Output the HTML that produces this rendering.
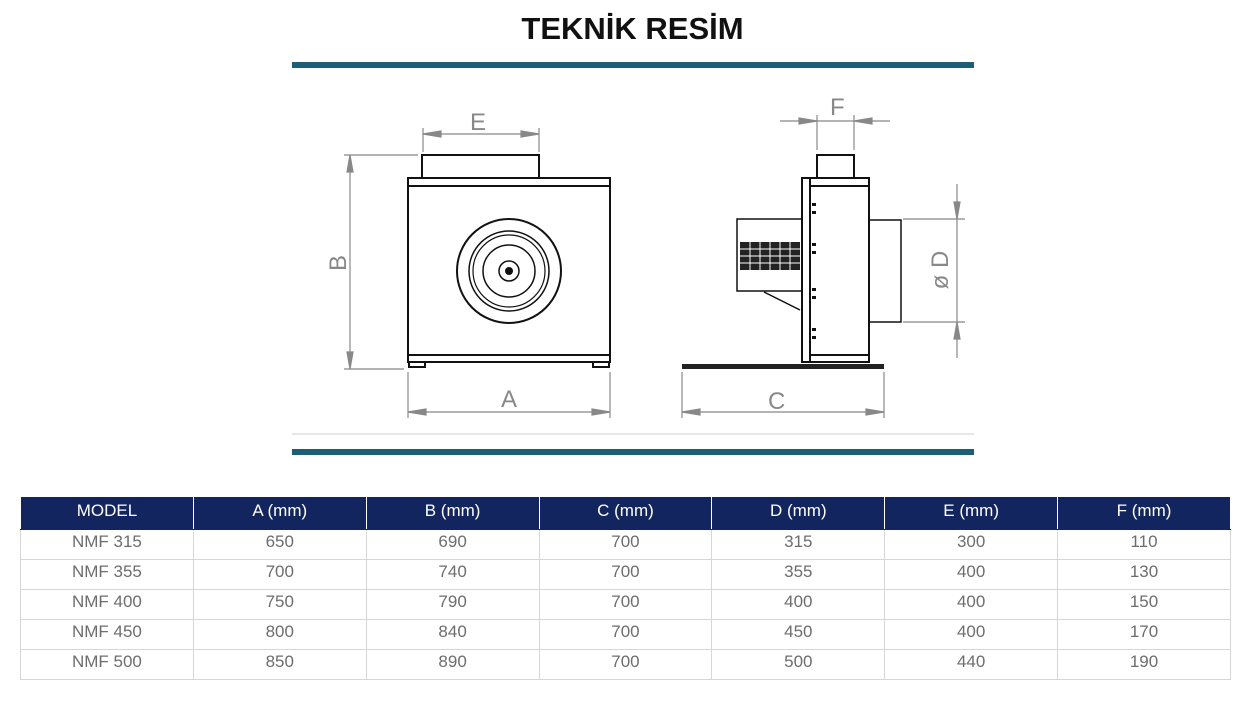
<!DOCTYPE html>
<html><head><meta charset="utf-8"><style>
body{margin:0;width:1247px;height:715px;background:#fff;position:relative;overflow:hidden;font-family:"Liberation Sans",sans-serif}
.t{position:absolute;top:11px;left:0;width:1265px;text-align:center;font-weight:bold;font-size:31px;color:#111}
table{position:absolute;left:20px;top:496px;border-collapse:collapse;width:1211px;table-layout:fixed}
td,th{border:1px solid #d6d6d6;text-align:center;font-size:17px;height:29px;padding:0 0 6px 0;line-height:23px;color:#6d6d6d;font-weight:normal;box-sizing:border-box}
td{height:30px}
th{background:#13255e;color:#fff;height:33px;padding-bottom:5px;border-color:#fff #fff #13255e}
</style></head><body>
<div class="t">TEKNİK RESİM</div>
<svg width="1247" height="480" style="position:absolute;left:0;top:0" font-family="Liberation Sans, sans-serif">
<rect x="292" y="62" width="682" height="6" fill="#1a5f75"/>
<rect x="292" y="449" width="682" height="6" fill="#1a5f75"/>
<line x1="292" y1="434" x2="974" y2="434" stroke="#ccc"/>
<g stroke="#888" stroke-width="1.2" fill="#888">
<line x1="423" y1="128" x2="423" y2="152"/><line x1="539" y1="128" x2="539" y2="152"/>
<line x1="423" y1="134" x2="539" y2="134"/>
<polygon points="423,134 441,131 441,137"/><polygon points="539,134 521,131 521,137"/>
<line x1="344" y1="155" x2="418" y2="155"/><line x1="344" y1="369" x2="404" y2="369"/>
<line x1="350" y1="155" x2="350" y2="369"/>
<polygon points="350,155 347,172 353,172"/><polygon points="350,369 347,352 353,352"/>
<line x1="408" y1="372" x2="408" y2="418"/><line x1="610" y1="372" x2="610" y2="418"/>
<line x1="408" y1="412" x2="610" y2="412"/>
<polygon points="408,412 426,409 426,415"/><polygon points="610,412 592,409 592,415"/>
<line x1="780" y1="121" x2="890" y2="121"/>
<line x1="817" y1="115" x2="817" y2="150"/><line x1="854" y1="115" x2="854" y2="150"/>
<polygon points="817,121 799,118 799,124"/><polygon points="854,121 872,118 872,124"/>
<line x1="903" y1="219" x2="965" y2="219"/><line x1="903" y1="322" x2="965" y2="322"/>
<line x1="957" y1="184" x2="957" y2="358"/>
<polygon points="957,219 954,202 960,202"/><polygon points="957,322 954,339 960,339"/>
<line x1="682" y1="372" x2="682" y2="418"/><line x1="884" y1="372" x2="884" y2="418"/>
<line x1="682" y1="412" x2="884" y2="412"/>
<polygon points="682,412 700,409 700,415"/><polygon points="884,412 866,409 866,415"/>
</g>
<g fill="#888" font-size="24">
<text x="470" y="130">E</text><text x="501" y="407">A</text><text x="768" y="409">C</text>
<text x="830" y="115">F</text>
<text transform="translate(346,263) rotate(-90)" text-anchor="middle">B</text>
<text transform="translate(948,270) rotate(-90)" text-anchor="middle">ø D</text>
</g>
<g stroke="#111" stroke-width="2" fill="none">
<rect x="422" y="155" width="117" height="23"/>
<rect x="408" y="178" width="202" height="184"/>
<line x1="408" y1="186" x2="610" y2="186"/>
<line x1="408" y1="355" x2="610" y2="355"/>
<rect x="409" y="362" width="16" height="5"/><rect x="593" y="362" width="16" height="5"/>
<circle cx="509" cy="271" r="52"/>
<circle cx="509" cy="271" r="40" stroke-width="1.5"/>
<circle cx="509" cy="271" r="36" stroke-width="1.2"/>
<circle cx="509" cy="271" r="26" stroke-width="1.5"/>
<circle cx="509" cy="271" r="10" stroke-width="1.5"/>
</g>
<circle cx="509" cy="271" r="4" fill="#111"/>
<g stroke="#111" stroke-width="2" fill="none">
<rect x="817" y="155" width="37" height="23"/>
<rect x="802" y="178" width="67" height="184"/>
<line x1="810" y1="178" x2="810" y2="362"/>
<line x1="810" y1="186" x2="869" y2="186"/>
<line x1="810" y1="355" x2="869" y2="355"/>
<rect x="869" y="220" width="32" height="102" stroke-width="1.5"/>
<rect x="737" y="219" width="65" height="72" stroke-width="1.5"/>
<line x1="764" y1="292" x2="800" y2="310" stroke-width="1.5"/>
</g>
<g fill="#111"><rect x="812" y="203" width="4" height="3"/><rect x="812" y="211" width="4" height="3"/><rect x="812" y="243" width="4" height="3"/><rect x="812" y="251" width="4" height="3"/><rect x="812" y="288" width="4" height="3"/><rect x="812" y="296" width="4" height="3"/><rect x="812" y="328" width="4" height="3"/><rect x="812" y="336" width="4" height="3"/></g>
<rect x="740" y="242" width="60" height="28" fill="#222"/>
<g stroke="#fff" stroke-width="1"><line x1="740" y1="249" x2="800" y2="249"/><line x1="740" y1="256" x2="800" y2="256"/><line x1="740" y1="263" x2="800" y2="263"/><line x1="750" y1="242" x2="750" y2="270"/><line x1="760" y1="242" x2="760" y2="270"/><line x1="770" y1="242" x2="770" y2="270"/><line x1="780" y1="242" x2="780" y2="270"/><line x1="790" y1="242" x2="790" y2="270"/></g>
<rect x="682" y="364" width="202" height="5" fill="#222"/>
</svg>
<table>
<tr><th>MODEL</th><th>A (mm)</th><th>B (mm)</th><th>C (mm)</th><th>D (mm)</th><th>E (mm)</th><th>F (mm)</th></tr>
<tr><td>NMF 315</td><td>650</td><td>690</td><td>700</td><td>315</td><td>300</td><td>110</td></tr>
<tr><td>NMF 355</td><td>700</td><td>740</td><td>700</td><td>355</td><td>400</td><td>130</td></tr>
<tr><td>NMF 400</td><td>750</td><td>790</td><td>700</td><td>400</td><td>400</td><td>150</td></tr>
<tr><td>NMF 450</td><td>800</td><td>840</td><td>700</td><td>450</td><td>400</td><td>170</td></tr>
<tr><td>NMF 500</td><td>850</td><td>890</td><td>700</td><td>500</td><td>440</td><td>190</td></tr>
</table>
</body></html>
